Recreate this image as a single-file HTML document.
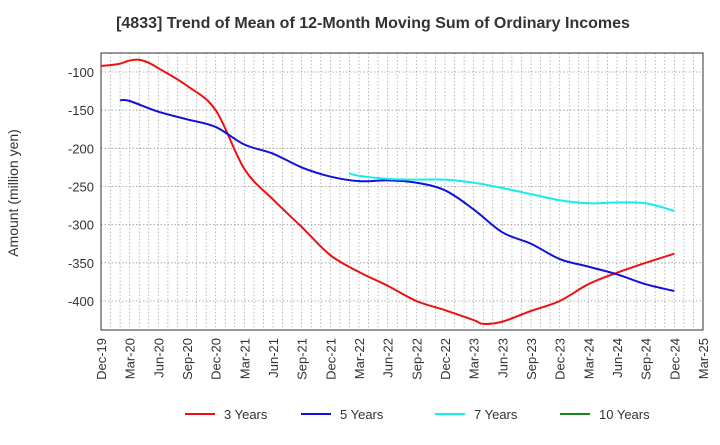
<!DOCTYPE html>
<html><head><meta charset="utf-8"><style>
body{margin:0;background:#fff;font-family:"Liberation Sans",sans-serif}
</style></head><body>
<svg id="c" width="720" height="440" xmlns="http://www.w3.org/2000/svg" font-family="Liberation Sans, sans-serif">
<text x="373" y="28" text-anchor="middle" font-size="16" font-weight="bold" fill="#333">[4833]  Trend of Mean of 12-Month Moving Sum of Ordinary Incomes</text>
<text transform="translate(18,193) rotate(-90)" text-anchor="middle" font-size="14" fill="#333">Amount (million yen)</text>
<g id="grid"></g><g id="axes"></g><g id="series"></g><g id="legend"></g>
</svg>
<script>
const xLabels=["Dec-19","Mar-20","Jun-20","Sep-20","Dec-20","Mar-21","Jun-21","Sep-21","Dec-21","Mar-22","Jun-22","Sep-22","Dec-22","Mar-23","Jun-23","Sep-23","Dec-23","Mar-24","Jun-24","Sep-24","Dec-24","Mar-25"];
const yTicks=[-100,-150,-200,-250,-300,-350,-400];
const seriesNames=["3 Years","5 Years","7 Years","10 Years"];
const seriesColors=["#ee1111","#1111dd","#11eeee","#118811"];
// month offsets from Dec-19
const m3=[0,1,2,3,4,5,6,9,12,15,18,21,24,27,30,33,36,39,40,42,45,48,51,54,57,60];
const v3=[-92,-91,-89,-85,-84,-88,-95,-118,-150,-227,-267,-303,-340,-362,-380,-400,-412,-425,-430,-427,-413,-400,-378,-363,-350,-338];
const m5=[2,3,6,9,12,15,18,21,24,27,30,33,36,39,42,45,48,51,54,57,60];
const v5=[-137,-138,-152,-162,-172,-195,-207,-225,-237,-243,-242,-245,-255,-280,-310,-325,-345,-355,-365,-378,-387];
const m7=[26,27,30,33,36,39,42,45,48,51,54,57,60];
const v7=[-233,-236,-240,-241,-241,-245,-252,-260,-268,-272,-271,-272,-282];
const m10=[];const v10=[];
const L=101,R=703,T=53,B=330;
const X=m=>L+m*(R-L)/63;
const Y=v=>72+(v+100)*(301-72)/(-300);
const NS="http://www.w3.org/2000/svg";
function mk(t,a,p){const e=document.createElementNS(NS,t);for(const k in a)e.setAttribute(k,a[k]);p.appendChild(e);return e;}
const grid=document.getElementById('grid'),axes=document.getElementById('axes');
for(let m=0;m<=63;m++){const g=mk('line',{x1:X(m),x2:X(m),y1:T,y2:B,stroke:'#aaa','stroke-dasharray':'1.5,2','stroke-width':0.8},grid);

}
yTicks.forEach(v=>{const g=mk('line',{x1:L,x2:R,y1:Y(v),y2:Y(v),stroke:'#999','stroke-dasharray':'1.5,2','stroke-width':0.8},grid);


const t=mk('text',{x:L-7,y:Y(v)+5,'text-anchor':'end','font-size':13,fill:'#333'},axes);t.textContent=v;

});
const fr=mk('rect',{x:L,y:T,width:R-L,height:B-T,fill:'none',stroke:'#333'},axes);


xLabels.forEach((s,i)=>{const x=X(i*3);const t=mk('text',{transform:`translate(${x+5},${B+8}) rotate(-90)`,'text-anchor':'end','font-size':13,fill:'#333'},axes);t.textContent=s;

});
function path(ms,vs){const p=ms.map((m,i)=>[X(m),Y(vs[i])]);if(!p.length)return'';let d=`M${p[0][0]},${p[0][1]}`;
for(let i=0;i<p.length-1;i++){const p0=p[i-1]||p[i],p1=p[i],p2=p[i+1],p3=p[i+2]||p2;
d+=` C${p1[0]+(p2[0]-p0[0])/6},${p1[1]+(p2[1]-p0[1])/6} ${p2[0]-(p3[0]-p1[0])/6},${p2[1]-(p3[1]-p1[1])/6} ${p2[0]},${p2[1]}`;}return d;}
const ser=document.getElementById('series');
[[m3,v3],[m5,v5],[m7,v7],[m10,v10]].forEach((s,i)=>{const p=mk('path',{d:path(s[0],s[1]),fill:'none',stroke:seriesColors[i],'stroke-width':2},ser);

});
const lg=document.getElementById('legend');const lx=[185,301,435,560];
seriesNames.forEach((n,i)=>{const g=mk('g',{},lg);


mk('line',{x1:lx[i],x2:lx[i]+30,y1:414,y2:414,stroke:seriesColors[i],'stroke-width':2},g);
const t=mk('text',{x:lx[i]+39,y:419,'font-size':13,fill:'#333'},g);t.textContent=n;});
</script>
</body></html>
